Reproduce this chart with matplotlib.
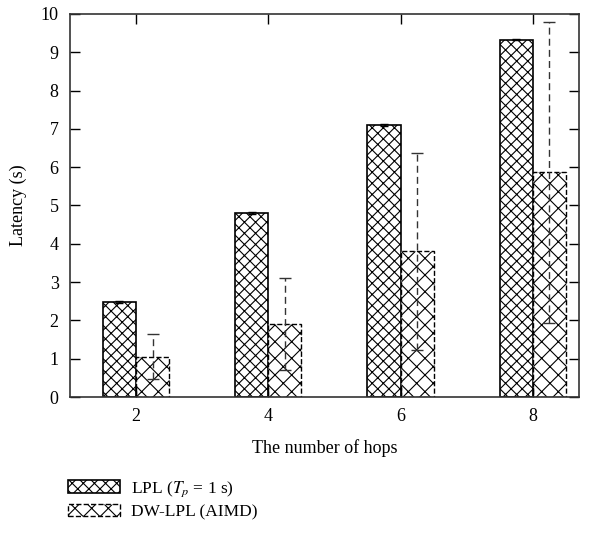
import matplotlib
matplotlib.use("Agg")
import matplotlib.pyplot as plt
import numpy as np

plt.rcParams['font.family'] = ['Liberation Serif', 'DejaVu Serif']
plt.rcParams['mathtext.fontset'] = 'stix'
plt.rcParams['hatch.linewidth'] = 0.8

hops = [2, 4, 6, 8]
lpl = [2.48, 4.80, 7.10, 9.33]
lpl_err = [0.02, 0.02, 0.02, 0.02]
dw = [1.05, 1.92, 3.80, 5.87]
dw_low = [0.48, 0.70, 1.23, 1.93]
dw_high = [1.65, 3.11, 6.37, 9.80]

fig = plt.figure(figsize=(5.97, 5.33), dpi=100)
ax = fig.add_axes([0.117, 0.255, 0.853, 0.719])

w = 0.5
x = np.array(hops, dtype=float)
ax.bar(x - w / 2, lpl, w, facecolor='white', edgecolor='black', linewidth=1.2,
       hatch='xxx', label=r'LPL ($T_p$ = 1 s)')
ax.errorbar(x - w / 2, lpl, yerr=lpl_err, fmt='none', ecolor='black',
            elinewidth=1.0, capsize=3)

ax.bar(x + w / 2, dw, w, facecolor='white', edgecolor='black', linewidth=1.0,
       linestyle='--', hatch='xx', label='DW-LPL (AIMD)')
dw_err = [np.array(dw) - np.array(dw_low), np.array(dw_high) - np.array(dw)]
eb = ax.errorbar(x + w / 2, dw, yerr=dw_err, fmt='none', ecolor='#333333',
                 elinewidth=1.0, capsize=4)
eb[2][0].set_linestyle((0, (5, 3)))

ax.set_xlim(1.0, 8.7)
ax.set_ylim(0, 10)
ax.set_xticks(hops)
ax.set_yticks(range(0, 11))
ax.tick_params(direction='in', length=7, width=1, labelsize=13,
               top=True, right=True, pad=8)
for s in ax.spines.values():
    s.set_linewidth(1.2)
    s.set_color('#333333')

ax.set_xlabel('The number of hops', fontsize=13, labelpad=10)
ax.set_ylabel('Latency (s)', fontsize=13, labelpad=10)

fig.legend(loc='upper left', bbox_to_anchor=(0.088, 0.13), frameon=False,
           fontsize=12.5, handlelength=3.0, handleheight=0.7, labelspacing=0.3,
           handletextpad=0.6)

fig.savefig('out.png', dpi=100)
